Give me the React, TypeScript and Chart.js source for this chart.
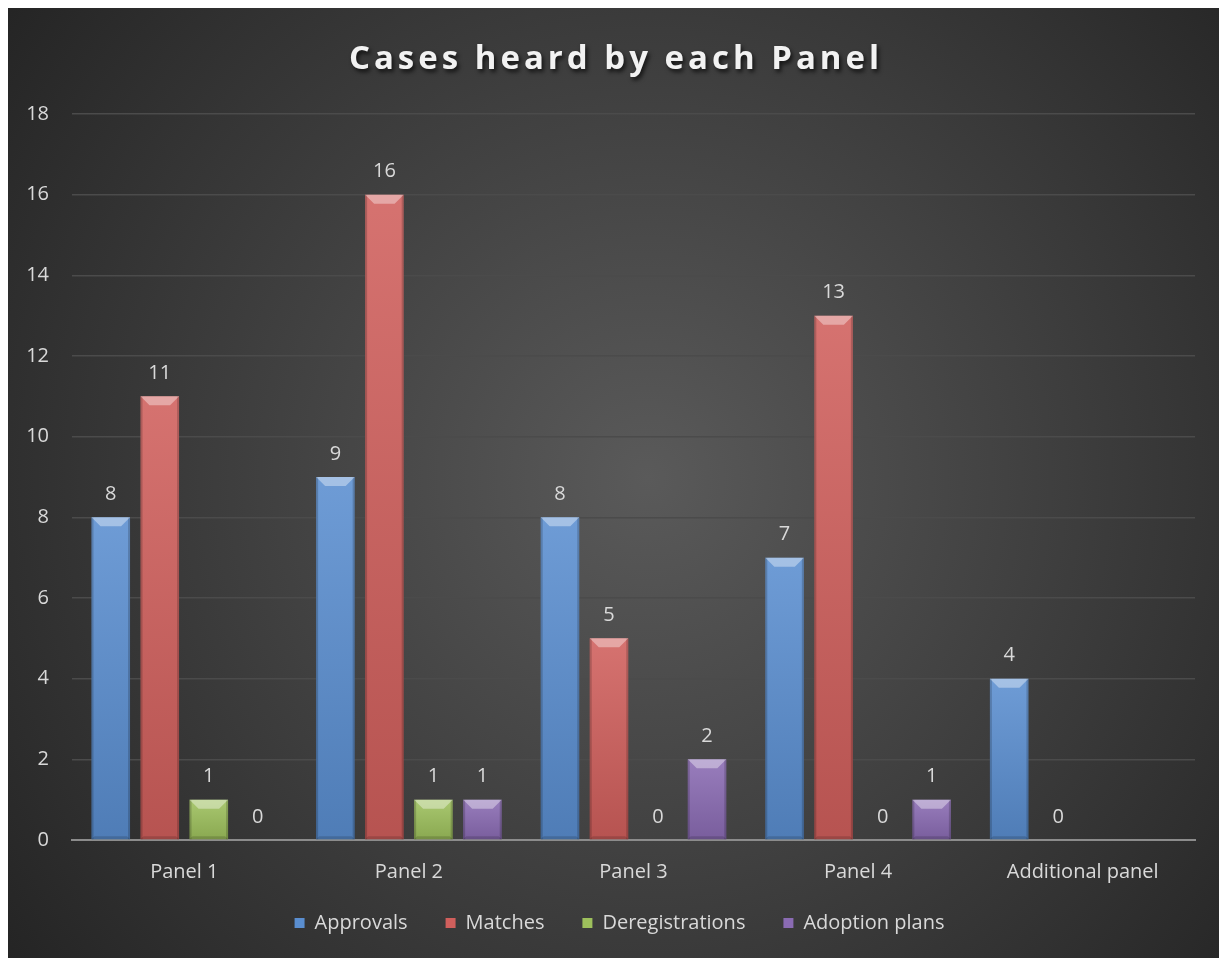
import React, { useEffect, useRef } from "react";
import { Chart, registerables } from "chart.js";

Chart.register(...registerables);

const categories = ["Panel 1", "Panel 2", "Panel 3", "Panel 4", "Additional panel"];
const approvals = [8, 9, 8, 7, 4];
const matches = [11, 16, 5, 13, 0];
const deregistrations = [1, 1, 0, 0, null];
const adoptionPlans = [0, 1, 2, 1, null];
const seriesNames = ["Approvals", "Matches", "Deregistrations", "Adoption plans"];
const seriesColors = ["#5a8ed0", "#d05f5c", "#9dc05c", "#8a6bb3"];
const yTicks = [0, 2, 4, 6, 8, 10, 12, 14, 16, 18];

const FONT = "'Open Sans', Lato, sans-serif";
const FS = 20;

const bgPlugin = {
  id: "bg",
  beforeDraw(chart: any) {
    const { ctx, width, height } = chart;
    ctx.save();
    const g = ctx.createRadialGradient(640, 470, 0, 640, 470, 820);
    g.addColorStop(0, "#5a5a5a");
    g.addColorStop(1, "#232323");
    ctx.fillStyle = g;
    ctx.fillRect(0, 0, width, height);
    ctx.restore();
  },
};

// let the x labels draw below the fixed-height axis box without being clipped,
// and centre the legend on the whole canvas
const layoutTweakPlugin = {
  id: "layoutTweak",
  afterLayout(chart: any) {
    const xs = chart.scales.x;
    xs.bottom = xs.top + 60;
    if (chart.legend) chart.legend.left += 36;
  },
};

const bevelPlugin = {
  id: "bevel",
  afterDatasetsDraw(chart: any) {
    const { ctx } = chart;
    ctx.save();
    chart.data.datasets.forEach((ds: any, di: number) => {
      const meta = chart.getDatasetMeta(di);
      meta.data.forEach((bar: any, i: number) => {
        const v = ds.data[i];
        if (v === null || v === undefined || v === 0) return;
        const { x, y, base, width } = bar.getProps(["x", "y", "base", "width"], true);
        const l = x - width / 2;
        const r = x + width / 2;
        const h = base - y;
        const g = ctx.createLinearGradient(0, y, 0, base);
        g.addColorStop(0, "rgba(255,255,255,0.12)");
        g.addColorStop(1, "rgba(0,0,0,0.12)");
        ctx.fillStyle = g;
        ctx.fillRect(l, y, width, h);
        ctx.fillStyle = "rgba(0,0,0,0.18)";
        ctx.fillRect(l, y, 2, h);
        ctx.fillRect(r - 2, y, 2, h);
        const b = Math.min(9, h / 2);
        ctx.beginPath();
        ctx.moveTo(l, y);
        ctx.lineTo(r, y);
        ctx.lineTo(r - b, y + b);
        ctx.lineTo(l + b, y + b);
        ctx.closePath();
        ctx.fillStyle = "rgba(255,255,255,0.38)";
        ctx.fill();
        ctx.beginPath();
        ctx.moveTo(l, base);
        ctx.lineTo(r, base);
        ctx.lineTo(r - 3, base - 3);
        ctx.lineTo(l + 3, base - 3);
        ctx.closePath();
        ctx.fillStyle = "rgba(0,0,0,0.15)";
        ctx.fill();
      });
    });
    ctx.restore();
  },
};

const labelPlugin = {
  id: "valueLabels",
  afterDatasetsDraw(chart: any) {
    const { ctx } = chart;
    ctx.save();
    ctx.font = `${FS}px ${FONT}`;
    ctx.fillStyle = "#d9d9d9";
    ctx.textAlign = "center";
    ctx.textBaseline = "middle";
    chart.data.datasets.forEach((ds: any, di: number) => {
      const meta = chart.getDatasetMeta(di);
      meta.data.forEach((bar: any, i: number) => {
        const v = ds.data[i];
        if (v === null || v === undefined) return;
        ctx.fillText(String(v), bar.x, bar.y - 23);
      });
    });
    ctx.restore();
  },
};

export default function App() {
  const ref = useRef<HTMLCanvasElement>(null);
  useEffect(() => {
    if (!ref.current) return;
    const data = [approvals, matches, deregistrations, adoptionPlans];
    const chart = new Chart(ref.current, {
      type: "bar",
      data: {
        labels: categories,
        datasets: data.map((d, i) => ({
          label: seriesNames[i],
          data: d,
          backgroundColor: seriesColors[i],
          borderWidth: 0,
          categoryPercentage: 0.873,
          barPercentage: 0.786,
        })),
      },
      options: {
        responsive: false,
        animation: false,
        layout: { padding: { top: 106, right: 29, bottom: 17, left: 0 } },
        plugins: {
          title: { display: false },
          tooltip: { enabled: false },
          legend: {
            position: "bottom",
            labels: {
              color: "#d9d9d9",
              font: { family: FONT, size: FS },
              boxWidth: 10,
              boxHeight: 10,
              padding: 38,
            },
          },
        },
        scales: {
          x: {
            grid: { display: false, drawTicks: false },
            border: { color: "#8c8c8c", width: 2 },
            ticks: { color: "#d9d9d9", font: { family: FONT, size: FS }, padding: 20 },
            afterFit(scale: any) {
              scale.height = 35;
            },
          },
          y: {
            min: 0,
            max: 18,
            afterBuildTicks(scale: any) {
              scale.ticks = yTicks.map((v) => ({ value: v }));
            },
            afterFit(scale: any) {
              scale.width = 64;
            },
            grid: { color: "#4b4b4b", lineWidth: 1.5, drawTicks: false },
            border: { display: false },
            ticks: { color: "#d9d9d9", font: { family: FONT, size: FS }, padding: 23 },
          },
        },
      },
      plugins: [bgPlugin, layoutTweakPlugin, bevelPlugin, labelPlugin],
    });
    return () => chart.destroy();
  }, []);

  return (
    <div style={{ position: "relative", width: 1216, height: 952 }}>
      <canvas ref={ref} width={1216} height={952} style={{ display: "block" }} />
      <div
        style={{
          position: "absolute",
          left: 0,
          right: 0,
          top: 29,
          textAlign: "center",
          fontFamily: FONT,
          fontWeight: 700,
          fontSize: 33,
          letterSpacing: "4px",
          color: "#f2f2f2",
          textShadow: "2px 3px 4px rgba(0,0,0,0.7)",
          lineHeight: "40px",
        }}
      >
        Cases heard by each Panel
      </div>
    </div>
  );
}
